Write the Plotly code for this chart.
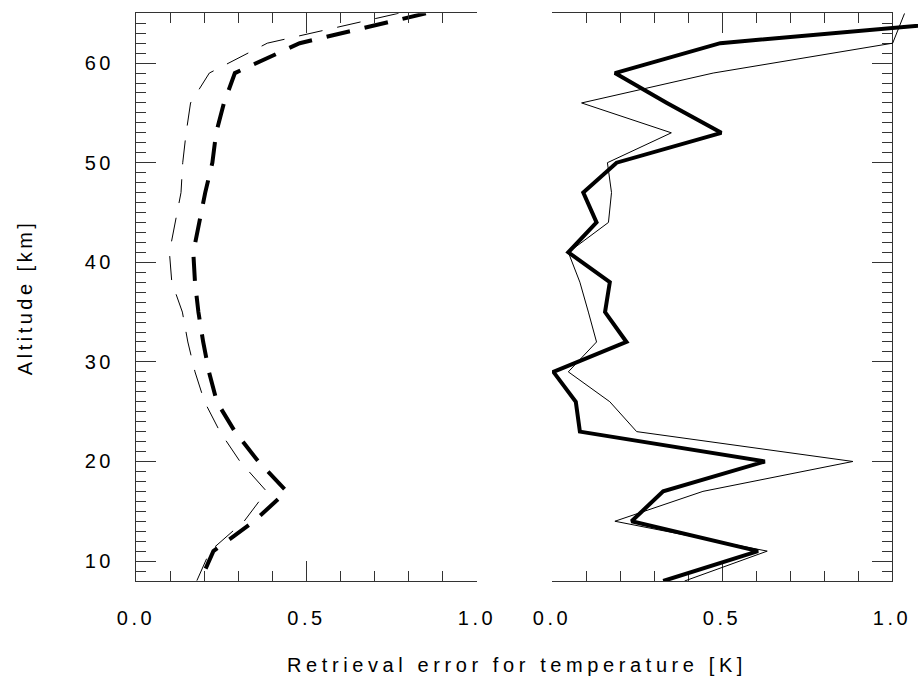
import plotly.graph_objects as go

# Altitude grid [km]
altitude = [65, 62, 59, 56, 53, 50, 47, 44, 41, 38, 35, 32, 29, 26, 23, 20, 17, 14, 11, 8]

# Left panel: dashed profiles
err_dashed_thin = [0.77, 0.385, 0.215, 0.160, 0.147, 0.137, 0.132, 0.115, 0.098, 0.105,
                   0.136, 0.152, 0.173, 0.201, 0.246, 0.305, 0.383, 0.317, 0.217, 0.178]
err_dashed_thick = [0.85, 0.48, 0.29, 0.258, 0.235, 0.224, 0.203, 0.185, 0.168, 0.173,
                    0.183, 0.197, 0.214, 0.237, 0.290, 0.359, 0.442, 0.346, 0.227, 0.188]

# Right panel: solid profiles
err_solid_thin = [1.037, 1.002, 0.474, 0.087, 0.351, 0.163, 0.175, 0.166, 0.048, 0.082,
                  0.107, 0.131, 0.048, 0.170, 0.249, 0.885, 0.444, 0.185, 0.633, 0.39]
err_solid_thick = [1.495, 0.495, 0.185, 0.338, 0.498, 0.19, 0.092, 0.131, 0.048, 0.170,
                   0.156, 0.219, 0.004, 0.07, 0.082, 0.626, 0.327, 0.234, 0.606, 0.327]

x_tick_vals = [0.0, 0.5, 1.0]
x_tick_labels = ["0.0", "0.5", "1.0"]
y_tick_vals = [10, 20, 30, 40, 50, 60]
y_tick_labels = ["10", "20", "30", "40", "50", "60"]

W, H = 918, 684
FONT = "Liberation Sans, Arial, sans-serif"
FS = 20
AXC = "#333333"


def spaced(s, gap=3.5):
    return f'<span style="letter-spacing:{gap}px">{s}</span>'


def px_x(p):
    return p / W


def px_y(p):
    return 1 - p / H


left_dom = [px_x(136), px_x(477)]
right_dom = [px_x(552), px_x(892)]
# wider drawing area so the right-panel curves can run past the frame
right_draw_dom = [px_x(552), 1.0]
draw_range = [0, (918 - 552) / 340.0]
y_dom = [px_y(581), px_y(13.3)]

fig = go.Figure()

fig.add_trace(go.Scatter(x=err_dashed_thin, y=altitude, mode="lines",
                         line=dict(color="black", width=1, dash="24px,15px"),
                         xaxis="x", yaxis="y", showlegend=False))
fig.add_trace(go.Scatter(x=err_dashed_thick, y=altitude, mode="lines",
                         line=dict(color="black", width=4, dash="24px,15px"),
                         xaxis="x", yaxis="y", showlegend=False))
# empty trace that holds the right-panel frame
fig.add_trace(go.Scatter(x=[], y=[], mode="lines", xaxis="x2", yaxis="y2",
                         showlegend=False, hoverinfo="skip"))
fig.add_trace(go.Scatter(x=err_solid_thin, y=altitude, mode="lines",
                         line=dict(color="black", width=1),
                         xaxis="x3", yaxis="y2", showlegend=False))
fig.add_trace(go.Scatter(x=err_solid_thick, y=altitude, mode="lines",
                         line=dict(color="black", width=4),
                         xaxis="x3", yaxis="y2", showlegend=False))

xcommon = dict(range=[0, 1], tickmode="array", tickvals=x_tick_vals,
               ticktext=[spaced(t) for t in x_tick_labels],
               ticks="inside", ticklen=20, tickwidth=1.2, tickcolor=AXC,
               minor=dict(tickmode="linear", tick0=0, dtick=0.1, ticks="inside",
                          ticklen=10, tickwidth=1.2, tickcolor=AXC),
               showline=True, linecolor=AXC, linewidth=1.2, mirror="ticks",
               showgrid=False, zeroline=False, ticklabelstandoff=19,
               tickfont=dict(family=FONT, size=FS, color="black"))
ycommon = dict(range=[8, 65], domain=y_dom, tickmode="array", tickvals=y_tick_vals,
               ticktext=[spaced(t) for t in y_tick_labels],
               ticks="inside", ticklen=20, tickwidth=1.2, tickcolor=AXC,
               minor=dict(tickmode="linear", tick0=0, dtick=1, ticks="inside",
                          ticklen=10, tickwidth=1.2, tickcolor=AXC),
               showline=True, linecolor=AXC, linewidth=1.2, mirror=False,
               showgrid=False, zeroline=False,
               tickfont=dict(family=FONT, size=FS, color="black"))

fig.update_layout(
    width=W, height=H,
    margin=dict(l=0, r=0, t=0, b=0, autoexpand=False),
    paper_bgcolor="white", plot_bgcolor="rgba(0,0,0,0)",
    xaxis=dict(domain=left_dom, anchor="y", **xcommon),
    yaxis=dict(anchor="x", side="left", ticklabelstandoff=17, **ycommon),
    xaxis2=dict(domain=right_dom, anchor="y2", **xcommon),
    yaxis2=dict(anchor="x2", side="right", showticklabels=False, **ycommon),
    xaxis3=dict(domain=right_draw_dom, range=draw_range, anchor="y2", visible=False,
                showgrid=False, zeroline=False),
    annotations=[
        dict(text=spaced("Altitude [km]"), x=px_x(25), y=(y_dom[0] + y_dom[1]) / 2,
             xref="paper", yref="paper", textangle=-90, showarrow=False,
             xanchor="center", yanchor="middle",
             font=dict(family=FONT, size=FS, color="black")),
        dict(text=spaced("Retrieval error for temperature [K]", 4.6), x=px_x(517), y=px_y(665),
             xref="paper", yref="paper", showarrow=False,
             xanchor="center", yanchor="middle",
             font=dict(family=FONT, size=FS, color="black")),
    ],
)

fig.write_html("out.html")
